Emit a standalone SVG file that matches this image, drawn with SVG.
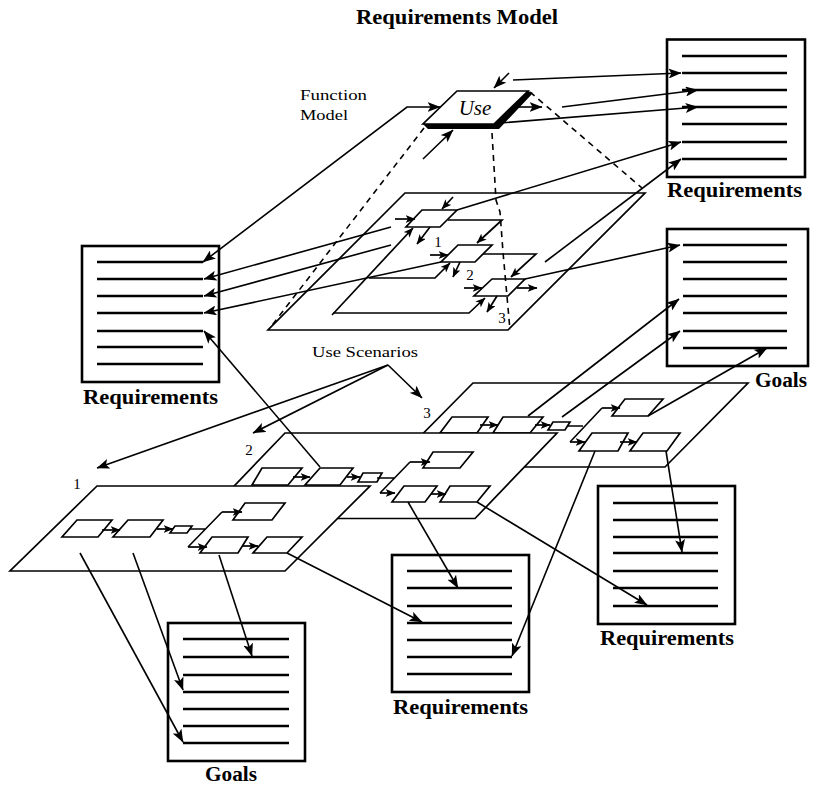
<svg xmlns="http://www.w3.org/2000/svg" width="816" height="787" viewBox="0 0 816 787">
<style>
.lbl{font-family:"Liberation Serif","Times New Roman",serif;font-weight:bold;font-size:20px;fill:#000}
.txt{font-family:"Liberation Serif","Times New Roman",serif;font-size:15px;fill:#000}
.frame{fill:#fff;stroke:#000;stroke-width:2.6}
.row{stroke:#000;stroke-width:2.3;fill:none}
.pl{fill:#fff;stroke:#000;stroke-width:1.7;stroke-linejoin:miter}
.bx{fill:#fff;stroke:#000;stroke-width:1.7}
.c{fill:none;stroke:#000;stroke-width:1.6}
.ca{fill:none;stroke:#000;stroke-width:1.6;marker-end:url(#ah)}
.cs{fill:none;stroke:#000;stroke-width:1.7;marker-end:url(#as)}
.d{fill:none;stroke:#000;stroke-width:1.6;stroke-dasharray:6 5}
</style>
<defs>
<marker id="ah" viewBox="0 0 13 10" refX="12.5" refY="5" markerWidth="13" markerHeight="10" markerUnits="userSpaceOnUse" orient="auto-start-reverse"><path d="M0,0 L13,5 L0,10 L3,5 z" fill="#000"/></marker>
<marker id="as" viewBox="0 0 10 8" refX="9.5" refY="4" markerWidth="10" markerHeight="8" markerUnits="userSpaceOnUse" orient="auto"><path d="M0,0 L10,4 L0,8 L2.5,4 z" fill="#000"/></marker>
</defs>
<rect width="816" height="787" fill="#fff"/>

<text class="lbl" x="356" y="24" textLength="202" lengthAdjust="spacingAndGlyphs">Requirements Model</text>

<!-- Documents -->
<g id="req-top-right">
<rect class="frame" x="667" y="39.5" width="138" height="137.5"/>
<path class="row" d="M682,56H787M682,73H787M682,90H787M682,107H787M682,124H787M682,142H787M682,159H787"/>
<text class="lbl" x="667" y="197" textLength="135" lengthAdjust="spacingAndGlyphs">Requirements</text>
</g>
<g id="goals-mid-right">
<rect class="frame" x="667" y="229" width="141" height="137"/>
<path class="row" d="M683,245H787M683,262H787M683,279H787M683,296H787M683,313H787M683,331H787M683,348H787"/>
<text class="lbl" x="755" y="387" textLength="52" lengthAdjust="spacingAndGlyphs">Goals</text>
</g>
<g id="req-left">
<rect class="frame" x="82" y="246" width="137" height="136"/>
<path class="row" d="M97,262H203M97,279H203M97,296H203M97,313H203M97,331H203M97,347H203M97,364H203"/>
<text class="lbl" x="83" y="404" textLength="135" lengthAdjust="spacingAndGlyphs">Requirements</text>
</g>
<g id="goals-bottom-left">
<rect class="frame" x="168" y="623" width="137" height="138"/>
<path class="row" d="M183,639H289M183,657H289M183,675H289M183,692H289M183,709H289M183,726H289M183,743H289"/>
<text class="lbl" x="205" y="781" textLength="52" lengthAdjust="spacingAndGlyphs">Goals</text>
</g>
<g id="req-bottom-mid">
<rect class="frame" x="392" y="555" width="137" height="137"/>
<path class="row" d="M407,571H512M407,588H512M407,606H512M407,623H512M407,640H512M407,657H512M407,674H512"/>
<text class="lbl" x="393" y="714" textLength="135" lengthAdjust="spacingAndGlyphs">Requirements</text>
</g>
<g id="req-bottom-right">
<rect class="frame" x="598" y="486" width="137" height="138"/>
<path class="row" d="M613,503H718M613,520H718M613,537H718M613,553H718M613,571H718M613,588H718M613,606H718"/>
<text class="lbl" x="600" y="645" textLength="134" lengthAdjust="spacingAndGlyphs">Requirements</text>
</g>

<!-- Function model -->
<g id="function-model">
<text class="txt" x="300" y="100" font-size="16" textLength="67" lengthAdjust="spacingAndGlyphs">Function</text>
<text class="txt" x="300" y="120" font-size="16" textLength="48" lengthAdjust="spacingAndGlyphs">Model</text>
<polygon points="423,124 494,124 528,91 533,93 499,129 428,129" fill="#000"/>
<polygon points="457,91 528,91 494,124 423,124" fill="#fff" stroke="#000" stroke-width="1.7"/>
<text x="475" y="115" text-anchor="middle" font-family="Liberation Serif, Times New Roman, serif" font-style="italic" font-size="21">Use</text>
</g>

<!-- Use scenarios plane -->
<g id="use-scenarios-plane">
<polygon points="405,193 645,193 508,330 268,330" fill="none" stroke="#000" stroke-width="1.7"/>
<polygon class="bx" points="422,210 457,210 440,227 406,227" fill="none"/>
<polygon class="bx" points="458,245 492,245 475,262 441,262" fill="none"/>
<polygon class="bx" points="492,279 525,279 508,296 474,296" fill="none"/>
<text class="txt" x="438" y="247" text-anchor="middle">1</text>
<text class="txt" x="470" y="280" text-anchor="middle">2</text>
<text class="txt" x="502" y="323" text-anchor="middle">3</text>
</g>
<text id="use-scenarios-label" class="txt" x="312" y="357" textLength="106" lengthAdjust="spacingAndGlyphs">Use Scenarios</text>

<!-- Scenario planes -->
<g id="scenario-3">
<polygon class="pl" points="473,383 748,383 665,467 390,467"/>
<polygon class="bx" points="452,417 488,417 477,433 440,433"/>
<polygon class="bx" points="503,417 543,417 530,433 493,433"/>
<polygon class="bx" points="553,422 570,422 565,430 548,430"/>
<polygon class="bx" points="625,399 663,399 648,416 612,416"/>
<polygon class="bx" points="592,433 628,433 618,451 579,451"/>
<polygon class="bx" points="643,433 680,433 667,451 630,451"/>
<path class="cs" d="M480,425H498"/>
<path class="cs" d="M535,425H550"/>
<path class="c" d="M568,426H583M602,408L570,442"/>
<path class="cs" d="M602,408H620"/>
<path class="cs" d="M570,442H585"/>
<path class="cs" d="M620,442H637"/>
<text class="txt" x="427" y="418" text-anchor="middle" font-size="17">3</text>
</g>
<g id="scenario-2">
<polygon class="pl" points="285,433 557,433 475,518.5 203,518.5"/>
<polygon class="bx" points="262,468 302,468 288,485 252,485"/>
<polygon class="bx" points="320,468 353,468 340,485 305,485"/>
<polygon class="bx" points="363,473 382,473 377,482 358,482"/>
<polygon class="bx" points="433,452 473,452 460,468 423,468"/>
<polygon class="bx" points="404,486 437,486 425,502 392,502"/>
<polygon class="bx" points="450,486 490,486 477,502 440,502"/>
<path class="cs" d="M293,477H310"/>
<path class="cs" d="M347,477H360"/>
<path class="c" d="M377,478H394M410,462L380,493"/>
<path class="cs" d="M410,462H430"/>
<path class="cs" d="M380,493H395"/>
<path class="cs" d="M431,494H446"/>
<text class="txt" x="249" y="455" text-anchor="middle" font-size="17">2</text>
</g>
<g id="scenario-1">
<polygon class="pl" points="97,486 370,486 285,571 10,571"/>
<polygon class="bx" points="77,520 112,520 98,537 62,537"/>
<polygon class="bx" points="128,520 163,520 150,537 113,537"/>
<polygon class="bx" points="175,526 192,526 187,533 170,533"/>
<polygon class="bx" points="245,503 285,503 272,520 233,520"/>
<polygon class="bx" points="212,537 248,537 238,553 200,553"/>
<polygon class="bx" points="267,537 302,537 287,553 253,553"/>
<path class="cs" d="M102,530H120"/>
<path class="cs" d="M157,529H173"/>
<path class="c" d="M190,529H205M222,512L188,547"/>
<path class="cs" d="M222,512H242"/>
<path class="cs" d="M188,547H207"/>
<path class="cs" d="M243,546H258"/>
<text class="txt" x="77" y="489" text-anchor="middle" font-size="17">1</text>
</g>

<!-- Connectors -->
<g id="connectors">
<!-- dashed projections -->
<path class="d" d="M424,128L270,328"/>
<path class="d" d="M530,92L642,188"/>
<path class="d" d="M492,133L496,200L500,212L503,252L510,330"/>
<!-- Use box arrows -->
<path class="ca" d="M509,73L494,88"/>
<path class="ca" d="M513,107H542"/>
<path class="ca" d="M423,159L453,130"/>
<path class="ca" d="M203,262L407,107H440" style="marker-start:url(#ah)"/>
<!-- to top-right requirements -->
<path class="ca" d="M513,80L681,73"/>
<path class="ca" d="M562,107L698,90"/>
<path class="ca" d="M500,123L698,107"/>
<path class="ca" d="M457,210L681,142"/>
<path class="ca" d="M545,262L681,159"/>
<!-- use scenario internals -->
<path class="cs" d="M332,315L413,228"/>
<path class="cs" d="M333,313H469L485,298"/>
<path class="cs" d="M369,278H435L450,263"/>
<path class="cs" d="M448,220H502L477,243"/>
<path class="cs" d="M483,254H536L511,277"/>
<path class="cs" d="M395,219H415"/>
<path class="cs" d="M453,197L442,209"/>
<path class="cs" d="M430,227L417,244"/>
<path class="cs" d="M430,255H448"/>
<path class="cs" d="M460,262L453,277"/>
<path class="cs" d="M464,288H482"/>
<path class="cs" d="M517,288H537"/>
<path class="cs" d="M497,296L487,312"/>
<!-- to left requirements -->
<path class="ca" d="M391,227L204,279"/>
<path class="ca" d="M391,245L204,296"/>
<path class="ca" d="M441,262L204,313"/>
<path class="ca" d="M320,467L204,331"/>
<!-- to mid-right goals -->
<path class="ca" d="M525,279L680,245"/>
<path class="ca" d="M528,416L679,299"/>
<path class="ca" d="M562,417L680,331"/>
<path class="ca" d="M648,416L767,348"/>
<!-- use scenarios label arrows -->
<path class="ca" d="M388,365L97,468"/>
<path class="ca" d="M388,365L253,433"/>
<path class="ca" d="M388,365L422,398"/>
<!-- plane 1 outputs -->
<path class="ca" d="M80,553L183,742"/>
<path class="ca" d="M133,553L183,690"/>
<path class="ca" d="M219,555L252,656"/>
<path class="ca" d="M287,553L422,622"/>
<!-- plane 2 outputs -->
<path class="ca" d="M408,502L458,588"/>
<path class="ca" d="M477,502L647,605"/>
<!-- plane 3 outputs -->
<path class="ca" d="M595,451L512,656"/>
<path class="ca" d="M666,451L682,552"/>
</g>
</svg>
